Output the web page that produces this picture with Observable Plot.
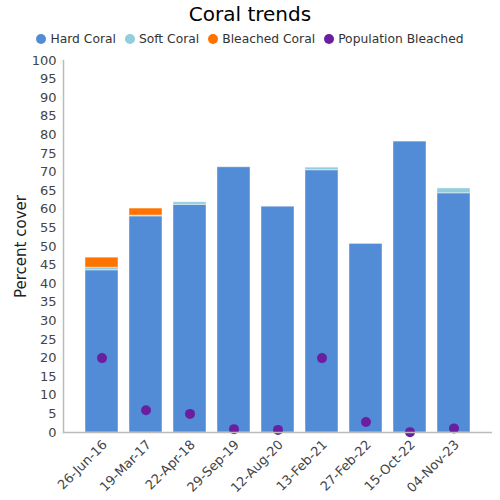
<!DOCTYPE html>
<html>
<head>
<meta charset="utf-8">
<script src="https://cdn.jsdelivr.net/npm/d3@7"></script>
<script src="https://cdn.jsdelivr.net/npm/@observablehq/plot@0.6"></script>
<style>
  body { margin: 0; background: #fff; font-family: "DejaVu Sans", sans-serif; }
  #wrap { width: 500px; }
  #title { height: 28px; line-height: 28px; text-align: center; font-size: 20px; color: #000; }
  #legend { height: 22px; display: flex; justify-content: center; align-items: center; gap: 9px; font-size: 12.3px; color: #333; }
  .item { display: flex; align-items: center; gap: 4px; }
  .sw { width: 10px; height: 10px; border-radius: 50%; display: inline-block; }
  svg { display: block; }
</style>
</head>
<body>
<div id="wrap">
  <div id="title">Coral trends</div>
  <div id="legend"></div>
  <div id="chart"></div>
</div>
<script>
const dates = ["26-Jun-16", "19-Mar-17", "22-Apr-18", "29-Sep-19", "12-Aug-20", "13-Feb-21", "27-Feb-22", "15-Oct-22", "04-Nov-23"];
const hardCoral = [43.6, 58.1, 61.2, 71.3, 60.7, 70.5, 50.7, 78.2, 64.3];
const softCoral = [0.7, 0.2, 0.7, 0, 0, 0.7, 0, 0, 1.3];
const bleachedCoral = [2.7, 1.9, 0, 0, 0, 0, 0, 0, 0];
const populationBleached = [20, 6, 5, 0.9, 0.7, 20, 2.8, 0.1, 1.1];
const seriesNames = ["Hard Coral", "Soft Coral", "Bleached Coral", "Population Bleached"];
const seriesColors = ["#528CD6", "#92CDDC", "#FF7300", "#6B1FA0"];
const yTicks = d3.range(0, 101, 5);

const stacked = [];
dates.forEach((d, i) => {
  stacked.push({date: d, series: "Hard Coral", value: hardCoral[i]});
  stacked.push({date: d, series: "Soft Coral", value: softCoral[i]});
  stacked.push({date: d, series: "Bleached Coral", value: bleachedCoral[i]});
});
const pop = dates.map((d, i) => ({date: d, value: populationBleached[i]}));

const legend = document.getElementById("legend");
seriesNames.forEach((s, i) => {
  const it = document.createElement("span");
  it.className = "item";
  it.innerHTML = `<span class="sw" style="background:${seriesColors[i]}"></span><span>${s}</span>`;
  legend.appendChild(it);
});

const chart = Plot.plot({
  width: 500,
  height: 450,
  marginTop: 10,
  marginBottom: 68,
  marginLeft: 63,
  marginRight: 8,
  style: {fontFamily: "DejaVu Sans, sans-serif", fontSize: "13px", color: "#444", background: "#fff"},
  x: {domain: dates, paddingInner: 0.24, paddingOuter: 0.495, label: null},
  y: {domain: [0, 100], label: null},
  color: {domain: seriesNames, range: seriesColors},
  marks: [
    Plot.barY(stacked, Plot.stackY({x: "date", y: "value", fill: "series", stroke: "#ffffff", strokeOpacity: 0.45, strokeWidth: 1})),
    Plot.dot(pop, {x: "date", y: "value", r: 5, fill: "#6B1FA0", stroke: "none"}),
    Plot.ruleY([0], {stroke: "#bbb", strokeWidth: 1.5}),
    Plot.frame({anchor: "left", stroke: "#bbb", strokeWidth: 1.5}),
    Plot.axisY({ticks: yTicks, tickSize: 0, tickPadding: 7, label: null, fill: "#444"}),
    Plot.axisX({tickSize: 0, tickPadding: 10, dx: 3, tickRotate: -45, label: null, fill: "#444"}),
    Plot.text(["Percent cover"], {frameAnchor: "left", textAnchor: "middle", dx: -42, rotate: -90, fontSize: 15, fill: "#222"})
  ]
});
document.getElementById("chart").appendChild(chart);
</script>
</body>
</html>
